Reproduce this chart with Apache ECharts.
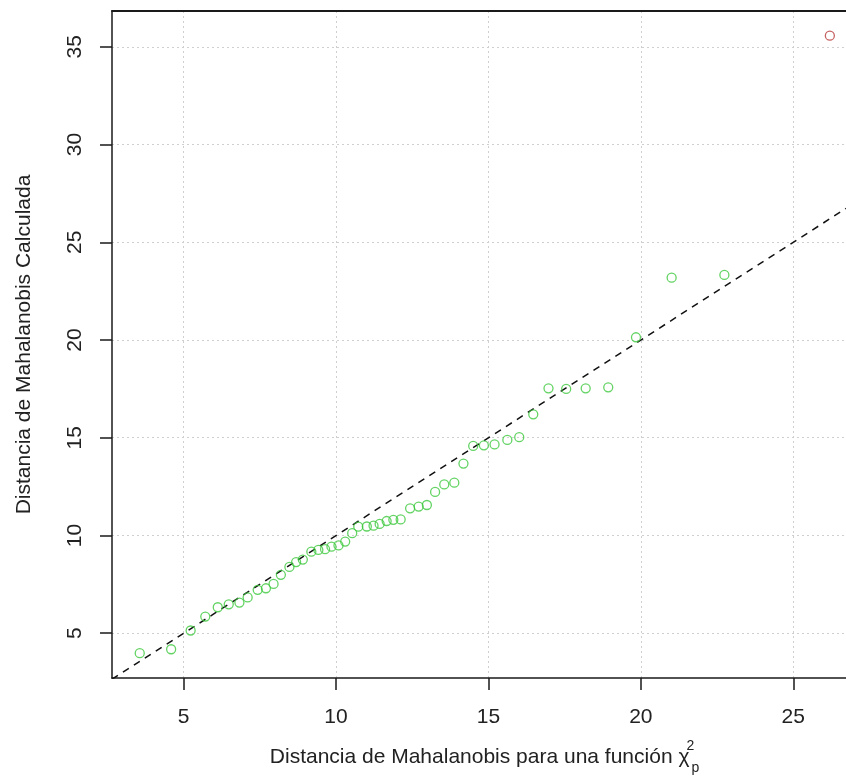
<!DOCTYPE html>
<html>
<head>
<meta charset="utf-8">
<script src="https://cdn.jsdelivr.net/npm/echarts@6/dist/echarts.min.js"></script>
<style>
  html, body { margin: 0; padding: 0; background: #ffffff; }
  #chart { width: 846px; height: 778px; }
</style>
</head>
<body>
<div id="chart"></div>
<script>
// Chi-square quantiles (x) against computed Mahalanobis distances (y), sorted.
const chiQuantiles = [
  3.56, 4.59, 5.23, 5.71, 6.12, 6.48, 6.83, 7.10, 7.43, 7.70,
  7.95, 8.19, 8.47, 8.69, 8.91, 9.19, 9.42, 9.64, 9.85, 10.08,
  10.30, 10.53, 10.73, 11.01, 11.23, 11.43, 11.66, 11.88, 12.12, 12.43,
  12.71, 12.98, 13.25, 13.55, 13.88, 14.18, 14.50, 14.85, 15.20, 15.62,
  16.01, 16.47, 16.97, 17.55, 18.19, 18.93, 19.84, 21.01, 22.74, 26.20
];
const mahalanobisDist = [
  3.98, 4.18, 5.14, 5.85, 6.33, 6.48, 6.57, 6.83, 7.22, 7.30,
  7.52, 7.99, 8.39, 8.64, 8.77, 9.17, 9.26, 9.30, 9.43, 9.49,
  9.69, 10.12, 10.45, 10.46, 10.50, 10.59, 10.74, 10.80, 10.82, 11.39,
  11.48, 11.56, 12.23, 12.61, 12.70, 13.68, 14.58, 14.61, 14.66, 14.89,
  15.03, 16.20, 17.53, 17.50, 17.53, 17.58, 20.14, 23.19, 23.33, 35.57
];
// Distances above this value are drawn as outliers.
const outlierCutoff = 30;

const xTicks = [5, 10, 15, 20, 25];
const yTicks = [5, 10, 15, 20, 25, 30, 35];

// Visible axis ranges (the plot runs off the right edge of the canvas).
const xLim = [2.65, 26.73];
const yLim = [2.71, 36.83];

// Reference line y = a + b x
const refIntercept = 0;
const refSlope = 1;

const inliers = [], outliers = [];
chiQuantiles.forEach((x, i) => {
  const p = [x, mahalanobisDist[i]];
  (mahalanobisDist[i] > outlierCutoff ? outliers : inliers).push(p);
});
const refLine = [xLim[0], xLim[1]].map(x => [x, refIntercept + refSlope * x]);

const FONT = '"Liberation Sans", Arial, sans-serif';
const INK = '#1a1a1a';
const TEXT = '#222';
const gridLine = { show: true, lineStyle: { color: '#cfcfcf', width: 1, type: [2, 3] } };

const chart = echarts.init(document.getElementById('chart'), null, { renderer: 'canvas' });
chart.setOption({
  animation: false,
  backgroundColor: '#ffffff',
  grid: { left: 112, top: 11, right: 0, bottom: 100, show: false, containLabel: false, outerBoundsMode: 'none' },
  xAxis: [
    {
      type: 'value', min: xLim[0], max: xLim[1],
      axisLine: { show: true, onZero: false, lineStyle: { color: INK, width: 1.5 } },
      axisTick: { show: true, length: 12, inside: false, customValues: xTicks, lineStyle: { color: INK, width: 1.5 } },
      axisLabel: { customValues: xTicks, margin: 29, fontSize: 21, fontFamily: FONT, color: TEXT },
      splitLine: gridLine,
      name: '{t|Distancia de Mahalanobis para una función χ}{sup|2}{sub|p}',
      nameLocation: 'middle', nameGap: 61,
      nameTextStyle: {
        fontFamily: FONT, color: TEXT, padding: [0, 0, 0, 11],
        rich: {
          t: { fontSize: 21, fontFamily: FONT, color: TEXT, padding: [0, 0, 7, 0], verticalAlign: 'bottom' },
          sup: { fontSize: 14, fontFamily: FONT, color: TEXT, width: 0, padding: [0, 0, 22, 1], verticalAlign: 'bottom' },
          sub: { fontSize: 14, fontFamily: FONT, color: TEXT, padding: [0, 0, 0, 1], verticalAlign: 'bottom' }
        }
      }
    },
    {
      // top frame line of the plot box
      type: 'value', position: 'top', min: xLim[0], max: xLim[1],
      axisLine: { show: true, onZero: false, lineStyle: { color: INK, width: 2 } },
      axisTick: { show: false }, axisLabel: { show: false }, splitLine: { show: false }
    }
  ],
  yAxis: {
    type: 'value', min: yLim[0], max: yLim[1],
    axisLine: { show: true, onZero: false, lineStyle: { color: INK, width: 1.5 } },
    axisTick: { show: true, length: 12, inside: false, customValues: yTicks, lineStyle: { color: INK, width: 1.5 } },
    axisLabel: { customValues: yTicks, margin: 26, rotate: 90, fontSize: 21, fontFamily: FONT, color: TEXT },
    splitLine: gridLine,
    name: 'Distancia de Mahalanobis Calculada',
    nameLocation: 'middle', nameGap: 77, nameRotate: 90,
    nameTextStyle: { fontSize: 21, fontFamily: FONT, color: TEXT }
  },
  series: [
    {
      type: 'line', data: refLine, symbol: 'none', clip: true, silent: true,
      lineStyle: { color: '#111', width: 1.5, type: [7, 6] }, z: 3
    },
    {
      type: 'scatter', data: inliers, symbol: 'circle', symbolSize: 9,
      itemStyle: { color: 'rgba(0,0,0,0)', borderColor: '#3cc83c', borderWidth: 1.3 }, z: 4
    },
    {
      type: 'scatter', data: outliers, symbol: 'circle', symbolSize: 9,
      itemStyle: { color: 'rgba(0,0,0,0)', borderColor: '#b83a3a', borderWidth: 1.3 }, z: 4
    }
  ]
});
</script>
</body>
</html>
